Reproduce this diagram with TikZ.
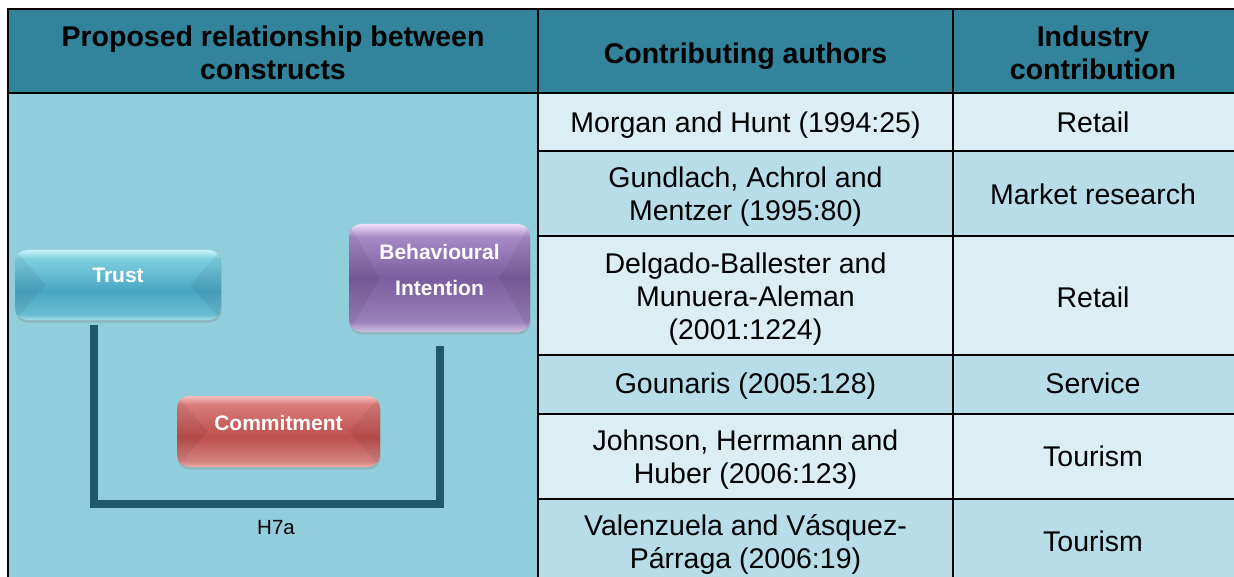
\documentclass[tikz,border=0pt]{standalone}
\usepackage{fontspec}
\setmainfont{Liberation Sans}
\usetikzlibrary{shadows}

% table colours
\definecolor{headfill}{RGB}{49,132,155}
\definecolor{rowlight}{RGB}{218,238,243}
\definecolor{rowdark}{RGB}{183,222,232}
\definecolor{leftfill}{RGB}{146,205,220}
\definecolor{linkcol}{RGB}{33,89,104}

% glossy box colours: top edge, upper, middle, lower, bottom edge
\definecolor{trT}{RGB}{200,244,250}
\definecolor{trU}{RGB}{128,208,225}
\definecolor{trM}{RGB}{72,166,195}
\definecolor{trL}{RGB}{105,187,209}
\definecolor{trB}{RGB}{168,224,235}
\definecolor{biT}{RGB}{240,224,252}
\definecolor{biU}{RGB}{166,138,198}
\definecolor{biM}{RGB}{122,93,158}
\definecolor{biL}{RGB}{152,128,185}
\definecolor{biB}{RGB}{208,190,226}
\definecolor{cmT}{RGB}{247,192,190}
\definecolor{cmU}{RGB}{216,124,121}
\definecolor{cmM}{RGB}{189,79,76}
\definecolor{cmL}{RGB}{210,130,128}
\definecolor{cmB}{RGB}{238,174,172}

\pgfdeclareverticalshading{trustshade}{100bp}{color(0bp)=(trB); color(25bp)=(trB); color(29bp)=(trL); color(46bp)=(trM); color(69bp)=(trU); color(75bp)=(trT); color(100bp)=(trT)}
\pgfdeclareverticalshading{intentshade}{100bp}{color(0bp)=(biB); color(25bp)=(biB); color(30bp)=(biL); color(50bp)=(biM); color(69bp)=(biU); color(75bp)=(biT); color(100bp)=(biT)}
\pgfdeclareverticalshading{commitshade}{100bp}{color(0bp)=(cmB); color(25bp)=(cmB); color(29bp)=(cmL); color(46bp)=(cmM); color(69bp)=(cmU); color(75bp)=(cmT); color(100bp)=(cmT)}

\tikzset{
  headtext/.style={font=\bfseries\fontsize{28.5pt}{33pt}\selectfont, align=center, text=black},
  celltext/.style={font=\fontsize{28.5pt}{33pt}\selectfont, align=center, text=black},
  grid/.style={line width=2pt, black},
  glossy/.style={shade, rounded corners=12pt, draw=none, inner sep=0pt,
    drop shadow={opacity=0.3, shadow xshift=0.5pt, shadow yshift=-2.5pt}},
  boxtext/.style={font=\bfseries\fontsize{21pt}{36pt}\selectfont, text=white, align=center},
  bevel/.style={black, opacity=0.055},
  link/.style={linkcol, line width=8pt, line join=miter},
}
% one table line, padded to a full strut so every cell centres alike
\newcommand{\cellline}[1]{#1\strut}

\begin{document}
\begin{tikzpicture}[x=1pt, y=-1pt]
\clip (0,0) rectangle (1234,577);
\fill[white] (0,0) rectangle (1234,577);

% cell fills
\fill[headfill] (8,9) rectangle (1240,93);
\fill[leftfill] (8,93) rectangle (538,590);
\fill[rowlight] (538,93)  rectangle (1240,151);
\fill[rowdark]  (538,151) rectangle (1240,236);
\fill[rowlight] (538,236) rectangle (1240,355);
\fill[rowdark]  (538,355) rectangle (1240,414);
\fill[rowlight] (538,414) rectangle (1240,499);
\fill[rowdark]  (538,499) rectangle (1240,590);

% table rules
\draw[grid] (8,9) -- (1240,9);
\draw[grid] (8,93) -- (1240,93);
\draw[grid] (8,8) -- (8,590);
\draw[grid] (538,8) -- (538,590);
\draw[grid] (953,8) -- (953,590);
\foreach \yy in {151,236,355,414,499} \draw[grid] (538,\yy) -- (1240,\yy);

% header
\node[headtext] (h1) at (273,56.5) {\cellline{Proposed relationship between}\\\cellline{constructs}};
\node[headtext] (h2) at (745.5,57) {\cellline{Contributing authors}};
\node[headtext] (h3) at (1093,56.5) {\cellline{Industry}\\\cellline{contribution}};

% body rows
\node[celltext] (a1) at (745.5,125.5) {\cellline{Morgan and Hunt (1994:25)}};
\node[celltext] (i1) at (1093,126) {\cellline{Retail}};
\node[celltext] (a2) at (745.5,197) {\cellline{Gundlach, Achrol and}\\\cellline{Mentzer (1995:80)}};
\node[celltext] (i2) at (1093,198) {\cellline{Market research}};
\node[celltext] (a3) at (745.5,299.5) {\cellline{Delgado-Ballester and}\\\cellline{Munuera-Aleman}\\\cellline{(2001:1224)}};
\node[celltext] (i3) at (1093,300.5) {\cellline{Retail}};
\node[celltext] (a4) at (745.5,387) {\cellline{Gounaris (2005:128)}};
\node[celltext] (i4) at (1093,387) {\cellline{Service}};
\node[celltext] (a5) at (745.5,460) {\cellline{Johnson, Herrmann and}\\\cellline{Huber (2006:123)}};
\node[celltext] (i5) at (1093,460) {\cellline{Tourism}};
\node[celltext] (a6) at (745.5,545) {\cellline{Valenzuela and Vásquez-}\\\cellline{Párraga (2006:19)}};
\node[celltext] (i6) at (1093,545) {\cellline{Tourism}};

% construct boxes
\node[glossy, shading=intentshade, minimum width=181pt, minimum height=108pt] (intent) at (439.5,278) {};
\node[glossy, shading=trustshade, minimum width=206pt, minimum height=70pt] (trust) at (118,285) {};
\node[glossy, shading=commitshade, minimum width=203pt, minimum height=71pt] (commit) at (278.5,431.5) {};

% pillow bevel on the box sides
\foreach \b in {trust,intent,commit}{
  \begin{scope}
    \clip[rounded corners=12pt] (\b.south west) rectangle (\b.north east);
    \fill[bevel] (\b.north west) -- ([xshift=31pt]\b.west) -- (\b.south west) -- cycle;
    \fill[bevel] (\b.north east) -- ([xshift=-31pt]\b.east) -- (\b.south east) -- cycle;
  \end{scope}
}
\node[boxtext] (trust-t) at ([yshift=10pt]trust.center) {Trust};
\node[boxtext] (intent-t) at ([yshift=8pt]intent.center) {Behavioural\\Intention};
\node[boxtext] (commit-t) at ([yshift=9pt]commit.center) {Commitment};

% hypothesis link
\coordinate (tfoot) at (93.5,325);
\coordinate (ifoot) at (440,346);
\coordinate (base) at (266,504);
\draw[link] (tfoot) |- (base) -| (ifoot);
\node[font=\fontsize{20.5pt}{24pt}\selectfont] (h7a) at (276,528) {H7a};
\end{tikzpicture}
\end{document}
